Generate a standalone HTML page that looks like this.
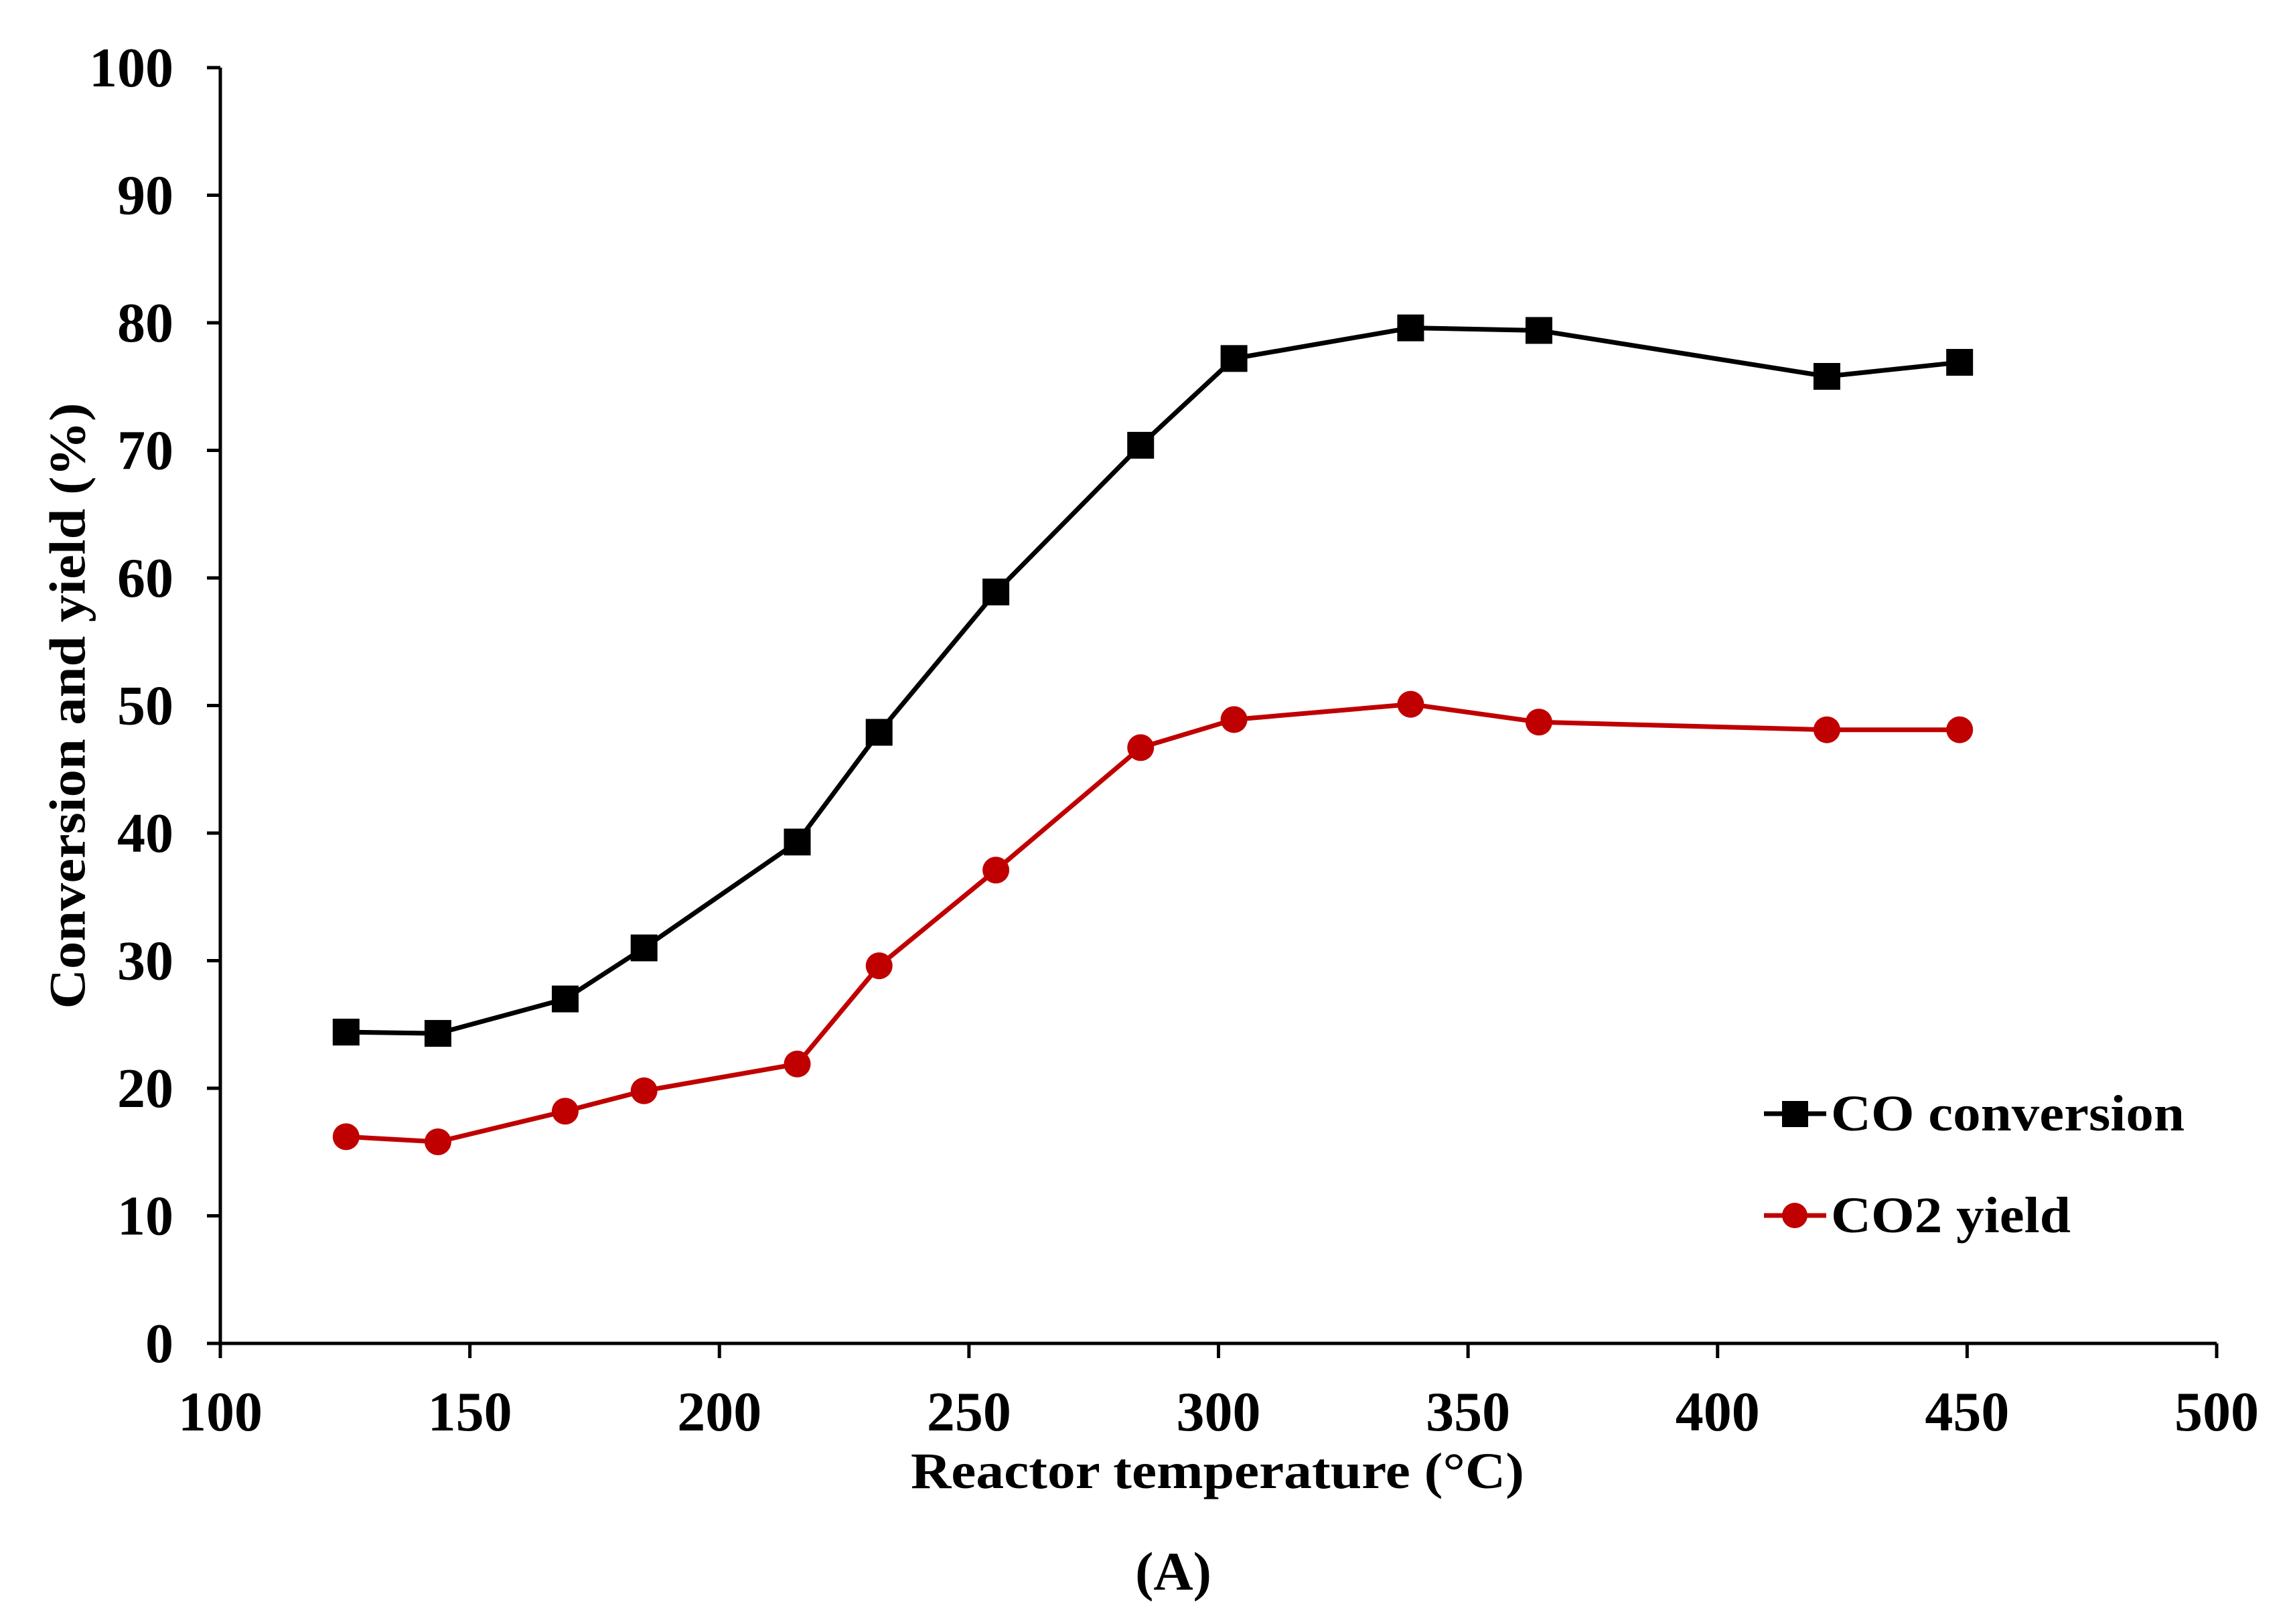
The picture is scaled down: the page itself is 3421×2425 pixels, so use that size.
<!DOCTYPE html>
<html><head><meta charset="utf-8"><style>
html,body{margin:0;padding:0;background:#fff;}
svg{display:block;font-family:"Liberation Serif",serif;font-weight:bold;}
</style></head><body>
<svg id="chart" width="3421" height="2425" viewBox="0 0 3421 2425">
<g id="axes"></g>
<g id="series"></g>
<text x="109" y="1054" font-size="76" text-anchor="middle" transform="rotate(-90 109 1054)" dominant-baseline="middle" textLength="905" lengthAdjust="spacingAndGlyphs">Conversion and yield (%)</text>
<text x="1818" y="2222" font-size="76" text-anchor="middle" textLength="916" lengthAdjust="spacingAndGlyphs">Reactor temperature (°C)</text>
<text x="1752" y="2374" font-size="82" text-anchor="middle">(A)</text>
<g>
<g>
<line x1="2634" y1="1663" x2="2727" y2="1663" stroke="#000" stroke-width="7"/>
<rect x="2661" y="1644" width="39" height="39" fill="#000"/>
<text x="2734" y="1688" font-size="76" textLength="528" lengthAdjust="spacingAndGlyphs">CO conversion</text>
</g>
<g>
<line x1="2634" y1="1815" x2="2727" y2="1815" stroke="#c00000" stroke-width="7"/>
<circle cx="2680" cy="1815" r="19" fill="#c00000"/>
<text x="2734" y="1840" font-size="76" textLength="358" lengthAdjust="spacingAndGlyphs">CO2 yield</text>
</g>
</g>
</svg>
<script>
const temps = [125.2,143.6,169.1,184.9,215.6,232.0,255.4,284.4,303.1,338.5,364.2,421.9,448.5];
const coConversion = [24.4,24.3,27.0,31.0,39.3,47.9,58.9,70.4,77.2,79.6,79.4,75.8,76.9];
const co2Yield = [16.2,15.8,18.2,19.8,21.9,29.6,37.1,46.7,48.9,50.1,48.7,48.1,48.1];
const xTicks = [100,150,200,250,300,350,400,450,500];
const yTicks = [0,10,20,30,40,50,60,70,80,90,100];

const NS = "http://www.w3.org/2000/svg";
const X0 = 329, X1 = 3310, Y0 = 2006, Y1 = 101;
function xs(v){ return X0 + (v-100)/400*(X1-X0); }
function ys(v){ return Y0 - v/100*(Y0-Y1); }
function mk(tag, attrs, parent){
  const e = document.createElementNS(NS, tag);
  for (const k in attrs) e.setAttribute(k, attrs[k]);
  parent.appendChild(e); return e;
}
const axes = document.getElementById('axes');
const series = document.getElementById('series');

let l = mk('line', {x1:X0,y1:Y0,x2:X0,y2:Y1,stroke:'#000','stroke-width':5}, axes);


l = mk('line', {x1:X0-20,y1:Y0,x2:X1,y2:Y0,stroke:'#000','stroke-width':5}, axes);



yTicks.forEach(v => {
  const y = ys(v);
  const t = mk('line', {x1:X0-20,y1:y,x2:X0,y2:y,stroke:'#000','stroke-width':5}, axes);
  
  
  const tx = mk('text', {x:259,y:y+28,'font-size':84,'text-anchor':'end'}, axes);
  tx.textContent = v;
  
  
});
xTicks.forEach(v => {
  const x = xs(v);
  const t = mk('line', {x1:x,y1:Y0,x2:x,y2:Y0+22,stroke:'#000','stroke-width':5}, axes);
  
  
  const tx = mk('text', {x:x,y:2136,'font-size':84,'text-anchor':'middle'}, axes);
  tx.textContent = v;
  
  
});

function drawSeries(vals, color, shape, name){
  const g = mk('g', {}, series);
  
  
  const pts = temps.map((t,i) => xs(t) + ',' + ys(vals[i])).join(' ');
  const pl = mk('polyline', {points:pts,fill:'none',stroke:color,'stroke-width':7,'stroke-linejoin':'round'}, g);
  
  
  temps.forEach((t,i) => {
    const cx = xs(t), cy = ys(vals[i]);
    let m;
    if (shape === 'square') m = mk('rect', {x:cx-20,y:cy-20,width:40,height:40,fill:color}, g);
    else m = mk('circle', {cx:cx,cy:cy,r:20,fill:color}, g);
    
    
  });
}
drawSeries(coConversion, '#000', 'square', 'co-conversion');
drawSeries(co2Yield, '#c00000', 'circle', 'co2-yield');
</script>
</body></html>
